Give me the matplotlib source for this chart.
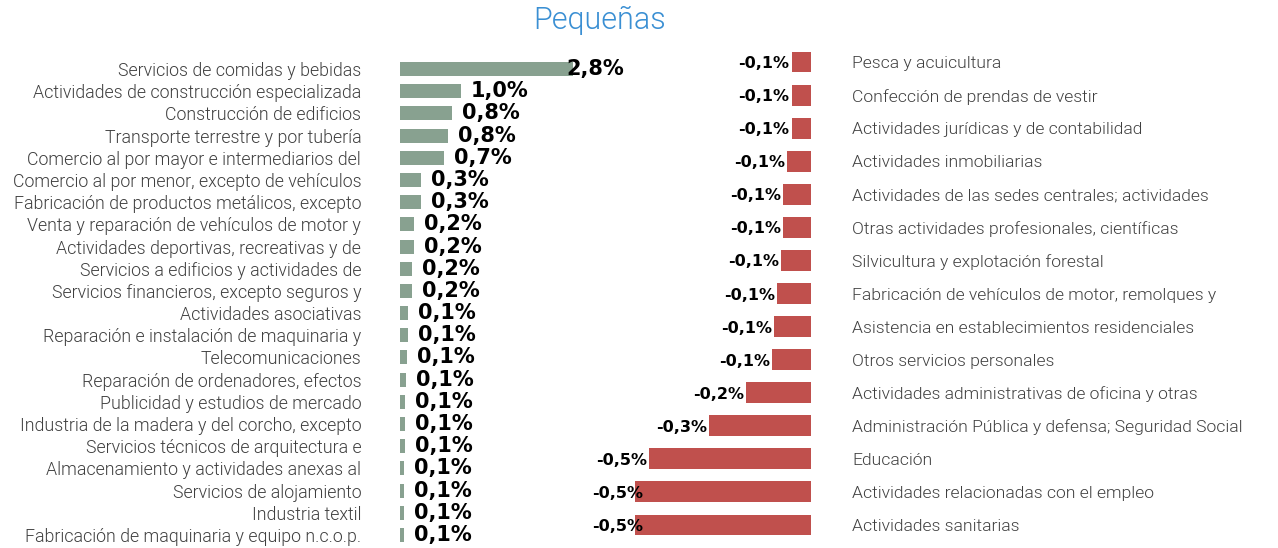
import matplotlib
matplotlib.use("Agg")
import matplotlib.pyplot as plt

# Sectores con mayor crecimiento (pequeñas empresas)
sect_pos = [
    "Servicios de comidas y bebidas",
    "Actividades de construcción especializada",
    "Construcción de edificios",
    "Transporte terrestre y por tubería",
    "Comercio al por mayor e intermediarios del",
    "Comercio al por menor, excepto de vehículos",
    "Fabricación de productos metálicos, excepto",
    "Venta y reparación de vehículos de motor y",
    "Actividades deportivas, recreativas y de",
    "Servicios a edificios y actividades de",
    "Servicios financieros, excepto seguros y",
    "Actividades asociativas",
    "Reparación e instalación de maquinaria y",
    "Telecomunicaciones",
    "Reparación de ordenadores, efectos",
    "Publicidad y estudios de mercado",
    "Industria de la madera y del corcho, excepto",
    "Servicios técnicos de arquitectura e",
    "Almacenamiento y actividades anexas al",
    "Servicios de alojamiento",
    "Industria textil",
    "Fabricación de maquinaria y equipo n.c.o.p.",
]
val_pos = [2.8, 0.99, 0.84, 0.78, 0.71, 0.34, 0.34, 0.23, 0.22, 0.20, 0.19,
           0.13, 0.13, 0.11, 0.10, 0.085, 0.08, 0.08, 0.065, 0.065, 0.06, 0.06]

# Sectores con mayor descenso
sect_neg = [
    "Pesca y acuicultura",
    "Confección de prendas de vestir",
    "Actividades jurídicas y de contabilidad",
    "Actividades inmobiliarias",
    "Actividades de las sedes centrales; actividades",
    "Otras actividades profesionales, científicas",
    "Silvicultura y explotación forestal",
    "Fabricación de vehículos de motor, remolques y",
    "Asistencia en establecimientos residenciales",
    "Otros servicios personales",
    "Actividades administrativas de oficina y otras",
    "Administración Pública y defensa; Seguridad Social",
    "Educación",
    "Actividades relacionadas con el empleo",
    "Actividades sanitarias",
]
val_neg = [-0.055, -0.055, -0.055, -0.068, -0.079, -0.079, -0.085, -0.096,
           -0.105, -0.11, -0.185, -0.29, -0.46, -0.5, -0.5]

GREEN = "#88a190"
RED = "#c0504d"
TXT = "#3f3f3f"


def pct(v):
    return f"{v:.1f}%".replace(".", ",")


fig = plt.figure(figsize=(12.78, 5.48), dpi=100)
fig.text(0.4695, 0.962, "Pequeñas", ha="center", va="center", fontsize=22,
         family="Roboto", fontweight=300, color="#3a8fd3")

# panel izquierdo
ax1 = fig.add_axes([0.313, 0.0036, 0.169, 0.8905])
ax1.barh(range(len(val_pos)), val_pos, height=0.63, color=GREEN)
ax1.set_xlim(0, 3.5)
ax1.set_ylim(len(val_pos) - 0.5, -0.5)
ax1.set_yticks(range(len(sect_pos)))
ax1.set_yticklabels(sect_pos, family="Roboto", fontweight=300, fontsize=12.75, color=TXT)
ax1.tick_params(axis="y", length=0, pad=28)
ax1.set_xticks([])
for i, v in enumerate(val_pos):
    ax1.annotate(pct(v), (min(v, 2.54), i), xytext=(7.2, 0), textcoords="offset points",
                 ha="left", va="center", fontsize=15, fontweight="bold",
                 family="DejaVu Sans", color="black")

# panel derecho
ax2 = fig.add_axes([0.4695, 0.0119, 0.1651, 0.905])
ax2.barh(range(len(val_neg)), val_neg, height=0.63, color=RED)
ax2.set_xlim(-0.6, 0)
ax2.set_ylim(len(val_neg) - 0.5, -0.5)
ax2.yaxis.tick_right()
ax2.set_yticks(range(len(sect_neg)))
ax2.set_yticklabels(sect_neg, family="Roboto", fontweight=300, fontsize=12.6, color=TXT)
ax2.tick_params(axis="y", length=0, pad=29.5)
ax2.set_xticks([])
for i, v in enumerate(val_neg):
    ax2.annotate(pct(v), (max(v, -0.472), i), xytext=(-1.5, 0), textcoords="offset points",
                 ha="right", va="center_baseline", fontsize=11.5, fontweight="bold",
                 family="DejaVu Sans", color="black")

for ax in (ax1, ax2):
    ax.patch.set_visible(False)
    for s in ax.spines.values():
        s.set_visible(False)

fig.savefig("out.png", dpi=100)
